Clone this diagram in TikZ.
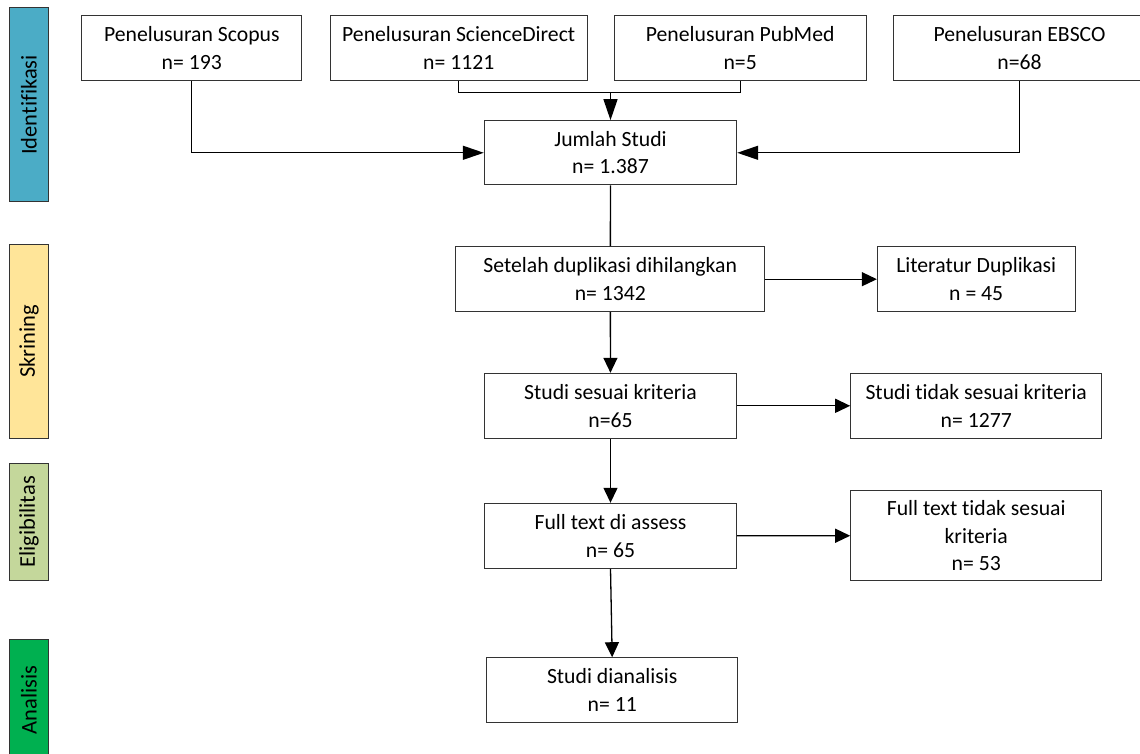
\documentclass[tikz,border=0pt]{standalone}
\usepackage{fontspec}
\setmainfont{Carlito}[Ligatures=CommonOff]
\usetikzlibrary{arrows.meta}

\definecolor{identblue}{HTML}{4BACC6}
\definecolor{skrinyellow}{HTML}{FFE599}
\definecolor{eliggreen}{HTML}{C4D79B}
\definecolor{analgreen}{HTML}{00B050}

\begin{document}
\begin{tikzpicture}[x=1pt, y=-1pt, >={Triangle[length=15pt,width=14pt]},
  box/.style={draw=black!80, line width=1pt, fill=white, align=center,
    inner sep=0pt, minimum height=65pt, font=\fontsize{21.7}{27.5}\selectfont},
  phase/.style={draw=black!80, line width=1pt, rotate=90, inner sep=0pt,
    minimum height=39.4pt, font=\fontsize{22.5}{27.5}\selectfont},
  link/.style={line width=1.3pt},
  bigtip/.style={-{Triangle[length=21pt,width=14pt]}}]

\clip (0,0) rectangle (1140,754);

% Phases
\node[phase, fill=identblue, minimum width=194pt] (ident) at (29,105) {Identifikasi};
\node[phase, fill=skrinyellow, minimum width=194.3pt] (skrin) at (29,341.2) {Skrining};
\node[phase, fill=eliggreen, minimum width=116.7pt] (elig) at (29,521.7) {Eligibilitas};
\node[phase, fill=analgreen, minimum width=120.7pt] (anal) at (29,699.7) {Analisis};

% Sources
\node[box, minimum width=219.7pt] (scopus) at (191.8,47.8) {Penelusuran Scopus\\n= 193};
\node[box, minimum width=257.3pt] (sdirect) at (458.7,47.8) {Penelusuran ScienceDirect\\n= 1121};
\node[box, minimum width=251.7pt] (pubmed) at (740.2,47.8) {Penelusuran PubMed\\n=5};
\node[box, minimum width=252.4pt] (ebsco) at (1019.5,47.8) {Penelusuran EBSCO\\n=68};

% Main column
\node[box, minimum width=252.4pt, minimum height=64.3pt] (jumlah) at (610.5,152.8) {Jumlah Studi\\n= 1.387};
\node[box, minimum width=309.3pt] (setelah) at (610.3,279.2) {Setelah duplikasi dihilangkan\\n= 1342};
\node[box, minimum width=252.4pt] (sesuai) at (610.5,405.8) {Studi sesuai kriteria\\n=65};
\node[box, minimum width=252.4pt] (fulltext) at (610.5,535.8) {Full text di assess\\n= 65};
\node[box, minimum width=251pt] (analisis) at (612.2,690.2) {Studi dianalisis\\n= 11};

% Excluded
\node[box, minimum width=197.7pt] (duplikasi) at (976.2,279.2) {Literatur Duplikasi\\n = 45};
\node[box, minimum width=251pt] (tidak) at (976.2,405.8) {Studi tidak sesuai kriteria\\n= 1277};
\node[box, minimum width=251pt, minimum height=90pt] (fttidak) at (976.2,535.7) {Full text tidak sesuai\\kriteria\\n= 53};

% Connectors
\coordinate (join) at (610.5,92.7);
\draw[link] (sdirect.south) |- (join) -| (pubmed.south);
\draw[link, bigtip] (join) -- (jumlah.north);
\draw[link, bigtip] (scopus.south) |- (jumlah.west);
\draw[link, bigtip] (ebsco.south) |- (jumlah.east);
\draw[link] (jumlah) -- (setelah);
\draw[link, ->] (setelah) -- (duplikasi);
\draw[link, ->] (setelah) -- (sesuai);
\draw[link, ->] (sesuai) -- (tidak);
\draw[link, ->] (sesuai) -- (fulltext);
\draw[link, ->] (fulltext) -- (fttidak);
\draw[link, ->] (fulltext.south) -- (analisis.north);

\end{tikzpicture}
\end{document}
